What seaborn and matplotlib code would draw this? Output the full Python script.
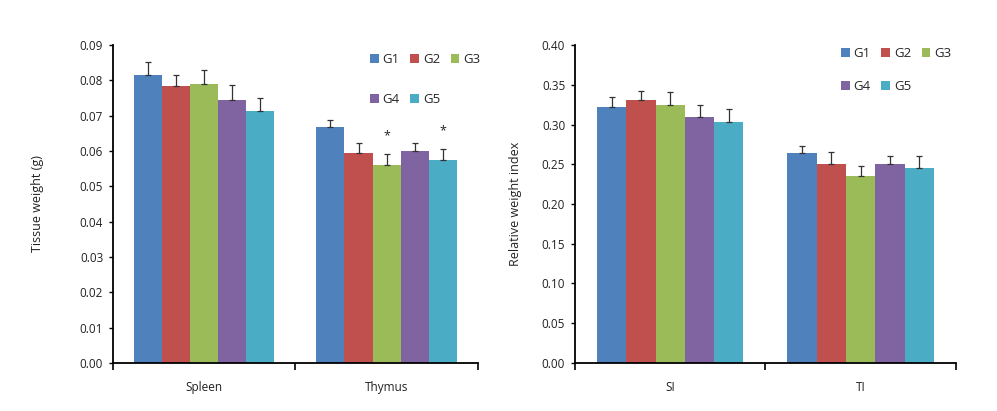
import matplotlib
matplotlib.use("Agg")
import matplotlib.pyplot as plt
import pandas as pd
import seaborn as sns

groups = ["G1", "G2", "G3", "G4", "G5"]
colors = ["#4F81BD", "#C0504D", "#9BBB59", "#8064A2", "#4BACC6"]

tissue_cats = ["Spleen", "Thymus"]
tissue_mean = {
    "Spleen": [0.0816, 0.0785, 0.0789, 0.0745, 0.0714],
    "Thymus": [0.0668, 0.0593, 0.0559, 0.0599, 0.0575],
}
tissue_sd = {
    "Spleen": [0.0037, 0.0030, 0.0041, 0.0042, 0.0035],
    "Thymus": [0.0019, 0.0031, 0.0033, 0.0025, 0.0032],
}
tissue_stars = {"Thymus": ["G3", "G5"]}

index_cats = ["SI", "TI"]
index_mean = {
    "SI": [0.322, 0.331, 0.3245, 0.309, 0.3035],
    "TI": [0.2645, 0.2507, 0.2352, 0.2499, 0.2457],
}
index_sd = {
    "SI": [0.013, 0.011, 0.016, 0.016, 0.0155],
    "TI": [0.009, 0.015, 0.013, 0.0105, 0.0147],
}

sns.set_theme(style="white")
plt.rcParams["font.family"] = ["Open Sans", "DejaVu Sans"]


def to_long(cats, means, sds):
    rows = []
    for c in cats:
        for g, m, s in zip(groups, means[c], sds[c]):
            rows.append({"cat": c, "group": g, "mean": m, "sd": s})
    return pd.DataFrame(rows)


def draw(ax, cats, means, sds, ylim, step, ylabel, ylabelpad, stars, leg_anchor, leg_space):
    df = to_long(cats, means, sds)
    sns.barplot(data=df, x="cat", y="mean", hue="group", order=cats,
                hue_order=groups, palette=colors, errorbar=None,
                width=0.77, saturation=1, ax=ax, edgecolor="none")
    # upper-only error bars at each bar's centre
    for gi, g in enumerate(groups):
        cont = ax.containers[gi]
        for ci, c in enumerate(cats):
            p = cont.patches[ci]
            xc = p.get_x() + p.get_width() / 2
            m = means[c][gi]
            s = sds[c][gi]
            ax.errorbar(xc, m, yerr=[[0], [s]], fmt="none", ecolor="#333333",
                        elinewidth=0.9, capsize=2.2, capthick=0.9)
            if g in stars.get(c, []):
                ax.text(xc, m + s + ylim * 0.035, "*", ha="center", va="bottom",
                        fontsize=9, color="#222222")
    n = int(round(ylim / step))
    ax.set_ylim(0, ylim)
    ax.set_xlim(-0.5, len(cats) - 0.5)
    ax.set_yticks([i * step for i in range(n + 1)])
    ax.set_yticklabels(["{:.2f}".format(i * step) for i in range(n + 1)],
                       fontsize=8.5, color="#222222")
    ax.set_xticks([i - 0.5 for i in range(len(cats) + 1)])
    ax.set_xticklabels([])
    ax.set_xticks(range(len(cats)), minor=True)
    ax.set_xticklabels(cats, minor=True, fontsize=8.5, color="#222222")
    ax.tick_params(axis="x", which="major", direction="out", length=5, width=1.2,
                   color="black", bottom=True)
    ax.tick_params(axis="x", which="minor", length=0, pad=13)
    ax.tick_params(axis="y", direction="out", length=3, width=1, color="black",
                   left=True, pad=4)
    ax.set_xlabel("")
    ax.set_ylabel(ylabel, fontsize=9, color="#222222", labelpad=ylabelpad)
    for side in ["top", "right"]:
        ax.spines[side].set_visible(False)
    for side in ["left", "bottom"]:
        ax.spines[side].set_color("black")
        ax.spines[side].set_linewidth(1.3)
    handles, labels = ax.get_legend_handles_labels()
    order = [0, 3, 1, 4, 2]
    ax.legend([handles[i] for i in order], [labels[i] for i in order],
              ncol=3, loc="upper left", bbox_to_anchor=leg_anchor, frameon=False,
              fontsize=9.5, handlelength=0.65, handleheight=0.65, handletextpad=0.3,
              columnspacing=0.8, labelspacing=leg_space, borderaxespad=0)


fig = plt.figure(figsize=(9.97, 4.11), dpi=100)
ax1 = fig.add_axes([0.1133, 0.1168, 0.366, 0.7737])
ax2 = fig.add_axes([0.5767, 0.1168, 0.382, 0.7737])

draw(ax1, tissue_cats, tissue_mean, tissue_sd, 0.09, 0.01, "Tissue weight (g)", 26,
     tissue_stars, (0.69, 0.99), 2.0)
draw(ax2, index_cats, index_mean, index_sd, 0.40, 0.05, "Relative weight index", 14,
     {}, (0.685, 1.01), 1.5)

fig.savefig("out.png", dpi=100)
